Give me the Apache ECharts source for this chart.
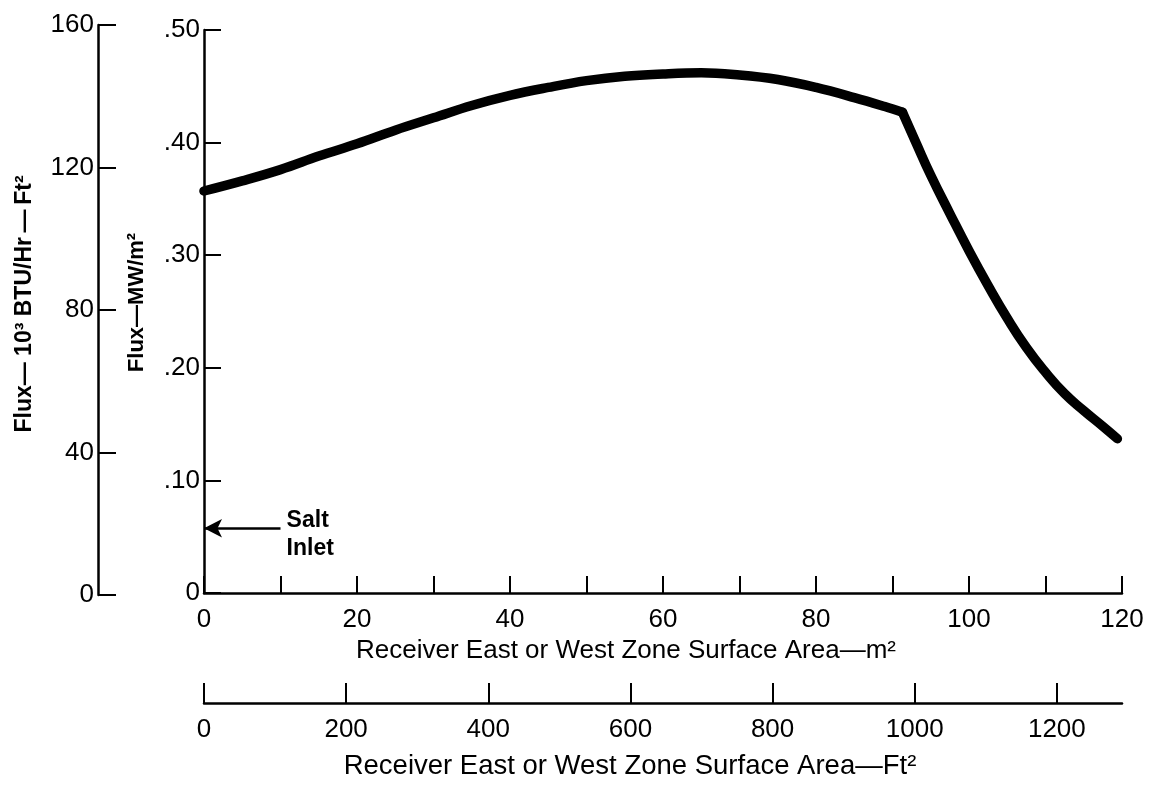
<!DOCTYPE html>
<html>
<head>
<meta charset="utf-8">
<script src="https://cdn.jsdelivr.net/npm/echarts@6/dist/echarts.min.js"></script>
<style>
html,body{margin:0;padding:0;background:#fff;}
#chart{width:1158px;height:785px;}
</style>
</head>
<body>
<div id="chart"></div>
<script>
// ---- data ----
// rising part of the curve (up to the kink)
const areaM2Upper = [0, 5, 10, 15, 20, 25, 30, 35, 40, 45, 50, 55, 60, 65, 70, 75, 80, 85, 89, 91.3];
const fluxMWUpper = [0.357, 0.366, 0.376, 0.388, 0.399, 0.411, 0.422, 0.433, 0.442, 0.449, 0.455, 0.459, 0.461, 0.462, 0.460, 0.456, 0.449, 0.440, 0.432, 0.427];
// falling part of the curve (after the kink)
const areaM2Lower = [91.3, 93, 95, 97.5, 100, 102.5, 105, 107.5, 110, 112.5, 115, 117.5, 119.4];
const fluxMWLower = [0.427, 0.401, 0.371, 0.337, 0.304, 0.273, 0.244, 0.218, 0.196, 0.177, 0.162, 0.148, 0.137];
const m2TickLabels = [0, 20, 40, 60, 80, 100, 120];
const ft2TickLabels = [0, 200, 400, 600, 800, 1000, 1200];
const mwTickLabels = ['0', '.10', '.20', '.30', '.40', '.50'];
const btuTickLabels = [0, 40, 80, 120, 160];
const saltInlet = {x: 0, y: 0.0575, label: 'Salt\nInlet'};
const M2_TO_FT2 = 10.7639;

const FONT = 'Liberation Sans';
const BLACK = '#000';
const axisLine = {show: true, onZero: false, lineStyle: {color: BLACK, width: 2.5}};
const curveStyle = {color: BLACK, width: 9.5, cap: 'round', join: 'round'};

const chart = echarts.init(document.getElementById('chart'), null, {renderer: 'canvas'});
const option = {
  backgroundColor: '#fff',
  animation: false,
  textStyle: {fontFamily: FONT, color: BLACK},
  grid: [
    {left: 204, right: 36, top: 30, bottom: 190},
    {left: 98, width: 10, top: 25, bottom: 190}
  ],
  xAxis: [
    {
      gridIndex: 0, type: 'value', min: 0, max: 120, interval: 10, position: 'bottom',
      axisLine: axisLine,
      axisTick: {show: true, inside: true, length: 17, lineStyle: {color: BLACK, width: 2}},
      axisLabel: {
        color: BLACK, fontFamily: FONT, fontSize: 26, margin: 14,
        formatter: v => m2TickLabels.includes(v) ? String(v) : ''
      },
      splitLine: {show: false},
      name: 'Receiver East or West Zone Surface Area\u2014m\u00B2',
      nameLocation: 'middle', nameGap: 44,
      nameTextStyle: {color: BLACK, fontFamily: FONT, fontSize: 26, padding: [0, 74, 0, 0]}
    },
    {
      gridIndex: 0, type: 'value', min: 0, max: 120 * M2_TO_FT2, position: 'bottom', offset: 110,
      axisLine: axisLine,
      axisTick: {show: true, inside: true, length: 20, lineStyle: {color: BLACK, width: 2}, customValues: ft2TickLabels},
      axisLabel: {color: BLACK, fontFamily: FONT, fontSize: 26, margin: 14, customValues: ft2TickLabels, formatter: v => String(v)},
      splitLine: {show: false},
      name: 'Receiver East or West Zone Surface Area\u2014Ft\u00B2',
      nameLocation: 'middle', nameGap: 49,
      nameTextStyle: {color: BLACK, fontFamily: FONT, fontSize: 27.5, padding: [0, 66, 0, 0]}
    },
    {gridIndex: 1, type: 'value', min: 0, max: 1, show: false}
  ],
  yAxis: [
    {
      gridIndex: 0, type: 'value', min: 0, max: 0.5, interval: 0.1, position: 'left',
      axisLine: axisLine,
      axisTick: {show: true, inside: true, length: 17, lineStyle: {color: BLACK, width: 2}},
      axisLabel: {
        color: BLACK, fontFamily: FONT, fontSize: 26, margin: 4,
        formatter: (v) => mwTickLabels[Math.round(v * 10)]
      },
      splitLine: {show: false},
      name: 'Flux\u2014MW/m\u00B2',
      nameLocation: 'middle', nameGap: 56, nameRotate: 90,
      nameTextStyle: {color: BLACK, fontFamily: FONT, fontSize: 22, fontWeight: 'bold', padding: [0, 0, 0, 18]}
    },
    {
      gridIndex: 1, type: 'value', min: 0, max: 160, interval: 40, position: 'left',
      axisLine: axisLine,
      axisTick: {show: true, inside: true, length: 18, lineStyle: {color: BLACK, width: 2}},
      axisLabel: {color: BLACK, fontFamily: FONT, fontSize: 26, margin: 4, formatter: v => String(v)},
      splitLine: {show: false},
      name: 'Flux\u2014 10\u00B3 BTU/Hr\u2009\u2014\u2009Ft\u00B2',
      nameLocation: 'middle', nameGap: 62, nameRotate: 90,
      nameTextStyle: {color: BLACK, fontFamily: FONT, fontSize: 23, fontWeight: 'bold', padding: [0, 0, 0, 12]}
    }
  ],
  series: [
    {
      type: 'line', xAxisIndex: 0, yAxisIndex: 0,
      data: areaM2Upper.map((x, i) => [x, fluxMWUpper[i]]),
      showSymbol: false, smooth: 0.4,
      lineStyle: curveStyle,
      markLine: {
        silent: true, symbol: ['none', 'arrow'], symbolSize: [14, 18],
        lineStyle: {color: BLACK, width: 2.5, type: 'solid'},
        label: {show: false},
        data: [[{coord: [saltInlet.x + 10, saltInlet.y]}, {coord: [saltInlet.x, saltInlet.y]}]]
      },
      markPoint: {
        silent: true, symbol: 'circle', symbolSize: 0,
        label: {
          show: true, position: 'right', distance: 0,
          formatter: () => saltInlet.label,
          color: BLACK, fontFamily: FONT, fontSize: 23, fontWeight: 'bold', lineHeight: 28, align: 'left'
        },
        data: [{coord: [saltInlet.x + 10.8, saltInlet.y - 0.006]}]
      }
    },
    {
      type: 'line', xAxisIndex: 0, yAxisIndex: 0,
      data: areaM2Lower.map((x, i) => [x, fluxMWLower[i]]),
      showSymbol: false, smooth: 0.5,
      lineStyle: curveStyle
    },
    {type: 'line', xAxisIndex: 2, yAxisIndex: 1, data: []}
  ]
};
chart.setOption(option);
</script>
</body>
</html>
